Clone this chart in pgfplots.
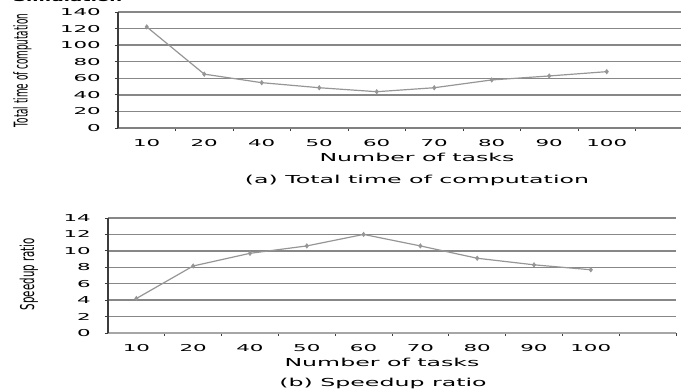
\documentclass[border=0pt]{standalone}
\usepackage{pgfplots}
\pgfplotsset{compat=1.18}
\usepackage{fontspec}
\setmainfont{DejaVu Sans}
\newfontfamily\tickfont[FakeStretch=2.25]{DejaVu Sans}
\newfontfamily\labfont[FakeStretch=2.15]{DejaVu Sans}
\newfontfamily\ylabAfont[FakeStretch=0.465]{DejaVu Sans}
\newfontfamily\ylabBfont[FakeStretch=0.54]{DejaVu Sans}
\newfontfamily\headfont[FakeStretch=2.0]{DejaVu Sans}
\definecolor{gridc}{RGB}{135,135,135}
\definecolor{linec}{RGB}{150,150,150}
\definecolor{axc}{RGB}{60,60,60}

\pgfplotsset{
 myax/.style={
  scale only axis,
  xmin=-0.5, xmax=9.5,
  xtick={0.5,1.5,...,9.5},
  xticklabels={},
  extra x ticks={0,1,...,8},
  extra x tick labels={10,20,40,50,60,70,80,90,100},
  extra x tick style={major tick length=0pt},
  ymajorgrids,
  major grid style={gridc, line width=1.3pt},
  axis x line*=bottom, axis y line*=left,
  x axis line style={gray, line width=1.2pt, -},
  y axis line style={axc, line width=1.8pt, -},
  tick align=outside,
  major tick length=3pt,
  tick style={axc, line width=0.8pt},
  xticklabel style={font=\fontsize{9.5}{10}\tickfont, yshift=-8pt},
  yticklabel style={font=\fontsize{9.5}{10}\tickfont, anchor=east, inner sep=0pt, xshift=-14pt},
  /pgf/number format/assume math mode=true,
 },
 myplot/.style={color=linec, line width=1.2pt, mark=diamond*, mark size=2.2pt, mark options={fill=linec, draw=linec, line width=0.6pt}},
}

\begin{document}
\begin{tikzpicture}
\useasboundingbox (0,0) rectangle (681pt,391pt);

\node[anchor=base west, inner sep=0pt, font=\fontsize{9}{10}\headfont\bfseries] at (13pt,389pt) {Simulation};

% (a) Total time of computation
\begin{axis}[myax,
  at={(118pt,263pt)}, anchor=south west,
  width=575pt, height=116pt,
  ymin=0, ymax=140, ytick={0,20,...,140},
]
\addplot[myplot] coordinates {(0,122) (1,65) (2,54.7) (3,48.6) (4,43.8) (5,48.6) (6,58) (7,62.8) (8,68)};
\end{axis}
\node[rotate=90, font=\fontsize{19}{20}\ylabAfont] at (22.5pt,320.5pt) {Total time of computation};
\node[font=\fontsize{11}{12}\labfont] at (417pt,234pt) {Number of tasks};
\node[font=\fontsize{11}{12}\labfont] at (417pt,211pt) {(a) Total time of computation};

% (b) Speedup ratio
\begin{axis}[myax,
  at={(108pt,58pt)}, anchor=south west,
  width=568pt, height=115pt,
  ymin=0, ymax=14, ytick={0,2,...,14},
  x axis line style={gray!70, line width=1.2pt, -},
]
\addplot[myplot] coordinates {(0,4.2) (1,8.16) (2,9.7) (3,10.6) (4,12.0) (5,10.6) (6,9.1) (7,8.3) (8,7.7)};
\end{axis}
\node[rotate=90, font=\fontsize{19}{20}\ylabBfont] at (29pt,117pt) {Speedup ratio};
\node[font=\fontsize{11}{12}\labfont] at (382pt,29pt) {Number of tasks};
\node[font=\fontsize{11}{12}\labfont] at (383pt,8pt) {(b) Speedup ratio};
\end{tikzpicture}
\end{document}
